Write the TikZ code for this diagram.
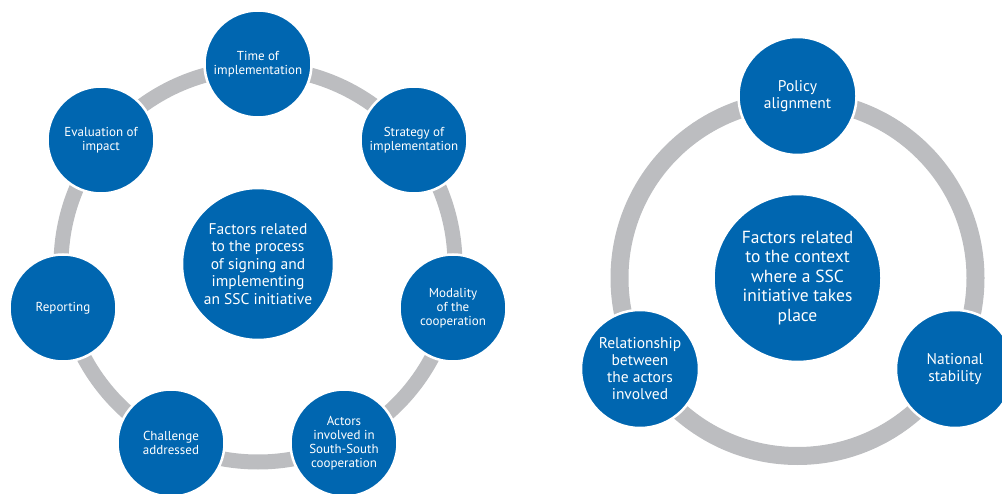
\documentclass[tikz,border=0pt]{standalone}
\usepackage{fontspec}
\setmainfont{PT Sans}
\definecolor{bubbleblue}{HTML}{0066B0}
\definecolor{ringgray}{HTML}{BCBDC0}
\begin{document}
\begin{tikzpicture}[x=1pt,y=-1pt,
  ringline/.style={draw=ringgray, line width=#1},
  bubble/.style={circle, fill=bubbleblue, draw=white, line width=2.5pt,
    text=white, align=center, inner sep=0pt, minimum size=#1},
  smalltext/.style={font=\fontsize{13}{14}\selectfont},
  midtext/.style={font=\fontsize{15.5}{17}\selectfont},
  bigtext/.style={font=\fontsize{15.5}{17.5}\selectfont},
  hugetext/.style={font=\fontsize{17.5}{19.5}\selectfont}]
\useasboundingbox (0,0) rectangle (1002,494);
\clip (0,0) rectangle (1002,494);

% Process factors: seven bubbles on a ring
\coordinate (lc) at (258,265);
\draw[ringline=15pt] (lc) circle[radius=197pt];
\node[bubble=152pt, bigtext] (process) at (258,264)
  {Factors related\\to the process\\of signing and\\implementing\\an SSC initiative};
\node[bubble=107pt, smalltext] (time) at (258,64) {Time of\\implementation};
\node[bubble=107pt, smalltext] (strategy) at (414,140) {Strategy of\\implementation};
\node[bubble=107pt, smalltext] (modality) at (453,308) {Modality\\of the\\cooperation};
\node[bubble=107pt, smalltext] (actors) at (344,443) {Actors\\involved in\\South-South\\cooperation};
\node[bubble=107pt, smalltext] (challenge) at (171,443) {Challenge\\addressed};
\node[bubble=107pt, smalltext] (reporting) at (63,308) {Reporting};
\node[bubble=107pt, smalltext] (evaluation) at (101,140) {Evaluation of\\impact};

% Context factors: three bubbles on a ring
\coordinate (rc) at (797.5,278);
\draw[ringline=18pt] (rc) circle[radius=178pt];
\node[bubble=168pt, hugetext] (context) at (797.5,278)
  {Factors related\\to the context\\where a SSC\\initiative takes\\place};
\node[bubble=118pt, midtext] (policy) at (797.5,96) {Policy\\alignment};
\node[bubble=118pt, midtext] (relation) at (640,369) {Relationship\\between\\the actors\\involved};
\node[bubble=118pt, midtext] (stability) at (955,369) {National\\stability};
\end{tikzpicture}
\end{document}
